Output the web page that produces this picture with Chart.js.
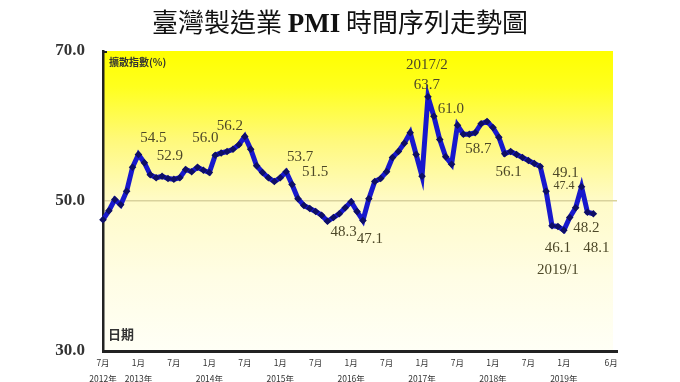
<!DOCTYPE html>
<html>
<head>
<meta charset="utf-8">
<script src="https://cdn.jsdelivr.net/npm/chart.js@4"></script>
<style>
    html, body { margin: 0; padding: 0; background: #fff; }
    #wrap { width: 680px; height: 382px; }
</style>
</head>
<body>
<div id="wrap"><canvas id="pmiChart" width="680" height="382"></canvas></div>
<script>
// PMI 月資料 2012/7 ~ 2019/6
const pmiValues = [
    47.5, 48.7, 50.2, 49.5, 51.3, 54.5,          // 2012/7-12
    56.2, 55.1, 53.5, 53.1, 53.3, 53.0,          // 2013/1-6
    52.9, 53.1, 54.2, 53.9, 54.5, 54.1,          // 2013/7-12
    53.8, 56.1, 56.4, 56.6, 56.9, 57.5,          // 2014/1-6
    58.6, 56.9, 54.7, 53.8, 53.1, 52.6,          // 2014/7-12
    53.1, 53.9, 52.2, 50.3, 49.4, 49.0,          // 2015/1-6
    48.6, 48.1, 47.3, 47.8, 48.3, 49.1,          // 2015/7-12
    49.9, 48.6, 47.4, 50.3, 52.6, 53.0,          // 2016/1-6
    53.9, 55.8, 56.6, 57.7, 59.1, 56.2,          // 2016/7-12
    53.3, 63.9, 61.3, 58.2, 55.9, 54.9,          // 2017/1-6
    60.1, 58.9, 58.9, 59.1, 60.3, 60.6,          // 2017/7-12
    59.8, 58.5, 56.3, 56.6, 56.2, 55.8,          // 2018/1-6
    55.4, 55.0, 54.6, 51.3, 46.7, 46.6,          // 2018/7-12
    46.1, 47.8, 49.1, 51.9, 48.5, 48.3           // 2019/1-6
];

// x 軸刻度 (月份序號, 0 = 2012/7)
const tickIndex = [0, 6, 12, 18, 24, 30, 36, 42, 48, 54, 60, 66, 72, 78, 86];
const tickMonth = ['7月', '1月', '7月', '1月', '7月', '1月', '7月', '1月', '7月', '1月', '7月', '1月', '7月', '1月', '6月'];
const tickYear  = ['2012年', '2013年', '', '2014年', '', '2015年', '', '2016年', '', '2017年', '', '2018年', '', '2019年', ''];

const yTicks = [30, 50, 70];

// 標註文字與對應的資料點
const noteText  = ['54.5', '52.9', '56.0', '56.2', '53.7', '51.5', '48.3', '47.1', '2017/2', '63.7', '61.0', '58.7', '56.1', '49.1', '47.4', '48.2', '46.1', '48.1', '2019/1'];
const noteIndex = [6, 12, 19, 24, 31, 32, 38, 44, 55, 55, 56, 61, 68, 81, 75, 82, 78, 83, 78];

// 標註相對資料點的位移 (px)
const noteOffset = [
    [15, -16], [-4, -23], [-10, -17], [-15, -10], [14, -15], [23, -12], [16, 11], [7, 19],
    [-1, -32], [-1, -12], [17, -7], [15, 15], [4, 18], [-16, -14], [18, -5], [-1, 16],
    [-6, 18], [3, 34], [-6, 40]
];

const plotBackground = {
    id: 'plotBackground',
    beforeDraw(chart) {
        const { ctx, chartArea: a } = chart;
        const g = ctx.createLinearGradient(0, a.top, 0, a.bottom);
        g.addColorStop(0, '#ffff00');
        g.addColorStop(0.12, '#ffff1e');
        g.addColorStop(0.3, '#fff97c');
        g.addColorStop(0.5, '#fffbc8');
        g.addColorStop(0.75, '#fffde4');
        g.addColorStop(1, '#fffff6');
        ctx.save();
        ctx.fillStyle = g;
        ctx.fillRect(a.left, a.top, a.right - a.left - 4, a.bottom - a.top);
        ctx.restore();
    }
};

const titleText = {
    id: 'titleText',
    afterDraw(chart) {
        const ctx = chart.ctx;
        const parts = [
            ['臺灣製造業 ', 'normal 26px "Noto Sans CJK TC"'],
            ['PMI', 'bold 27px "Liberation Serif"'],
            [' 時間序列走勢圖', 'normal 26px "Noto Sans CJK TC"']
        ];
        ctx.save();
        ctx.fillStyle = '#111';
        ctx.textBaseline = 'alphabetic';
        let total = 0;
        parts.forEach(p => { ctx.font = p[1]; total += ctx.measureText(p[0]).width; });
        let x = 340 - total / 2;
        parts.forEach(p => {
            ctx.font = p[1];
            ctx.fillText(p[0], x, 32);
            x += ctx.measureText(p[0]).width;
        });

        // 區域內文字
        const a = chart.chartArea;
        ctx.fillStyle = '#333';
        ctx.font = 'bold 10px "Noto Sans CJK TC"';
        ctx.textBaseline = 'middle';
        ctx.fillText('擴散指數(%)', a.left + 6, a.top + 11);
        ctx.font = 'bold 13px "Noto Sans CJK TC"';
        ctx.fillText('日期', a.left + 5, a.bottom - 17);

        // 左軸頂端小刻度
        ctx.strokeStyle = '#222';
        ctx.lineWidth = 2;
        ctx.beginPath();
        ctx.moveTo(a.left - 1, a.top + 1);
        ctx.lineTo(a.left + 4, a.top + 1);
        ctx.stroke();
        ctx.restore();
    }
};

const valueNotes = {
    id: 'valueNotes',
    afterDatasetsDraw(chart) {
        const ctx = chart.ctx;
        const pts = chart.getDatasetMeta(0).data;
        ctx.save();
        ctx.fillStyle = '#4d4828';
        ctx.textAlign = 'center';
        ctx.textBaseline = 'middle';
        noteText.forEach((t, k) => {
            const p = pts[noteIndex[k]];
            if (!p) return;
            ctx.font = t === '47.4' ? '12px "Liberation Serif"' : '15px "Liberation Serif"';
            ctx.fillText(t, p.x + noteOffset[k][0], p.y + noteOffset[k][1]);
        });
        ctx.restore();
    }
};

const ctxPmi = document.getElementById('pmiChart');

new Chart(ctxPmi, {
    type: 'line',
    data: {
        datasets: [{
            label: 'PMI',
            data: pmiValues.map((v, i) => ({ x: i, y: v })),
            borderColor: '#1818cc',
            borderWidth: 5,
            tension: 0,
            pointStyle: 'rectRot',
            pointRadius: 3.8,
            pointBackgroundColor: '#0e0e66',
            pointBorderWidth: 0,
            clip: false
        }]
    },
    options: {
        responsive: false,
        animation: false,
        devicePixelRatio: 1,
        layout: { padding: { top: 51, right: 63, bottom: 0, left: 0 } },
        plugins: {
            legend: { display: false },
            title: { display: false },
            tooltip: { enabled: false }
        },
        scales: {
            x: {
                type: 'linear',
                min: 0,
                max: 87,
                afterBuildTicks: axis => { axis.ticks = tickIndex.map(v => ({ value: v })); },
                afterFit: axis => { axis.height = 31; },
                grid: { display: false, drawTicks: false },
                border: { display: true, color: '#222', width: 3 },
                ticks: {
                    padding: 4,
                    maxRotation: 0,
                    autoSkip: false,
                    color: '#333',
                    font: { family: '"Noto Sans CJK TC"', size: 8.5, lineHeight: 1.9 },
                    callback: (v, i) => tickYear[i] ? [tickMonth[i], tickYear[i]] : tickMonth[i]
                }
            },
            y: {
                min: 30,
                max: 70,
                afterBuildTicks: axis => { axis.ticks = yTicks.map(v => ({ value: v })); },
                afterFit: axis => { axis.width = 103; },
                grid: {
                    drawTicks: false,
                    lineWidth: 1.5,
                    color: c => c.tick && c.tick.value === 50 ? '#d9d29c' : 'rgba(0,0,0,0)'
                },
                border: { display: true, color: '#222', width: 2.5 },
                ticks: {
                    padding: 18,
                    color: '#333',
                    font: { family: '"Liberation Serif"', size: 17, weight: 'bold' },
                    callback: v => v.toFixed(1)
                }
            }
        }
    },
    plugins: [plotBackground, titleText, valueNotes]
});
</script>
</body>
</html>
